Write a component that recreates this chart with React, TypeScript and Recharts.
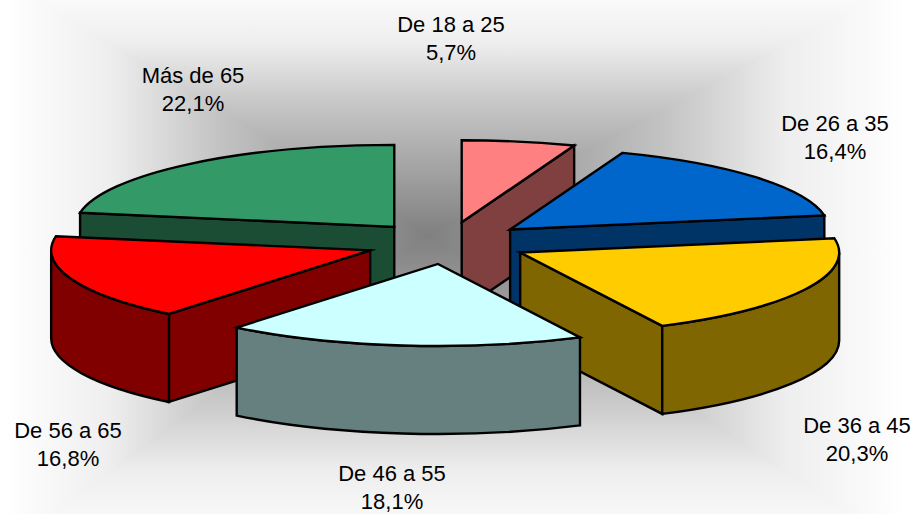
import { PieChart, Pie } from 'recharts';

const ageGroups = ['De 18 a 25', 'De 26 a 35', 'De 36 a 45', 'De 46 a 55', 'De 56 a 65', 'Más de 65'];
const shares = [5.7, 16.4, 20.3, 18.1, 16.8, 22.1];
const topColors = ['#FF8080', '#0066CC', '#FFCC00', '#CCFFFF', '#FF0000', '#339966'];
const sideColors = ['#804040', '#003366', '#806600', '#668080', '#800000', '#1A4D33'];

// draw order: back slices first, the front slice overlaps everything
const layers = [
    [5, 0, 1],
    [2, 4],
    [3],
];

const labelCenters = [
    [451, 25],
    [835, 124],
    [857, 426],
    [392, 474],
    [68, 431],
    [193, 76],
];

const pieData = ageGroups.map((name, i) => ({ name, value: shares[i], idx: i }));

const SQUASH = 0.257;
const EXPLODE = 82;
const DEPTH = 88;

const rad = (deg: number) => (deg * Math.PI) / 180;

// Tilted, exploded wedge built from the angles the Pie computed
function tiltedSlice(props: any, layer: number[]) {
    const { cx, cy, outerRadius, startAngle, endAngle, midAngle, idx } = props;
    if (!layer.includes(idx)) return <g />;

    const a = outerRadius;
    const b = outerRadius * SQUASH;
    const from = 90 - startAngle;
    const to = 90 - endAngle;
    const mid = 90 - midAngle;

    const ax = cx + EXPLODE * Math.sin(rad(mid));
    const ay = cy - EXPLODE * SQUASH * Math.cos(rad(mid));
    const pt = (t: number) => [ax + a * Math.sin(rad(t)), ay - b * Math.cos(rad(t))];

    const [sx, sy] = pt(from);
    const [ex, ey] = pt(to);
    const common = { stroke: '#000', strokeWidth: 2.4, strokeLinejoin: 'miter' as const, strokeMiterlimit: 8 };
    const side = sideColors[idx];

    const walls = [];
    if (Math.sin(rad(from)) < 0) {
        walls.push(<path key="s" {...common} fill={side} d={`M${ax},${ay}L${sx},${sy}L${sx},${sy + DEPTH}L${ax},${ay + DEPTH}Z`} />);
    }
    if (Math.sin(rad(to)) > 0) {
        walls.push(<path key="e" {...common} fill={side} d={`M${ax},${ay}L${ex},${ey}L${ex},${ey + DEPTH}L${ax},${ay + DEPTH}Z`} />);
    }
    const arcFrom = Math.max(from, 90);
    const arcTo = Math.min(to, 270);
    if (arcTo > arcFrom) {
        const [x1, y1] = pt(arcFrom);
        const [x2, y2] = pt(arcTo);
        walls.push(
            <path
                key="o"
                {...common}
                fill={side}
                d={`M${x1},${y1}A${a},${b} 0 0 1 ${x2},${y2}L${x2},${y2 + DEPTH}A${a},${b} 0 0 0 ${x1},${y1 + DEPTH}Z`}
            />
        );
    }

    return (
        <g>
            {walls}
            <path {...common} fill={topColors[idx]} d={`M${ax},${ay}L${sx},${sy}A${a},${b} 0 0 1 ${ex},${ey}Z`} />
        </g>
    );
}

function sliceLabel(props: any) {
    const i = props.index;
    const [x, y] = labelCenters[i];
    return (
        <text x={x} y={y} textAnchor="middle" fontFamily="'Liberation Sans', Arial, sans-serif" fontSize={22} fill="#000">
            <tspan x={x} dy={7}>{ageGroups[i]}</tspan>
            <tspan x={x} dy={28}>{shares[i].toFixed(1).replace('.', ',')}%</tspan>
        </text>
    );
}

// Rectangular "path" gradient behind the pie
const BG = { cx: 428, cy: 235, l: 5, r: 905, t: -20, b: 550 };

function Backdrop() {
    const { cx, cy, l, r, t, b } = BG;
    const tris = [
        { id: 'bgT', pts: `${l},${t} ${r},${t} ${cx},${cy}`, x2: cx, y2: t },
        { id: 'bgR', pts: `${r},${t} ${r},${b} ${cx},${cy}`, x2: r, y2: cy },
        { id: 'bgB', pts: `${r},${b} ${l},${b} ${cx},${cy}`, x2: cx, y2: b },
        { id: 'bgL', pts: `${l},${b} ${l},${t} ${cx},${cy}`, x2: l, y2: cy },
    ];
    return (
        <svg width={914} height={514} style={{ position: 'absolute', left: 0, top: 0 }}>
            <defs>
                {tris.map((g) => (
                    <linearGradient key={g.id} id={g.id} gradientUnits="userSpaceOnUse" x1={cx} y1={cy} x2={g.x2} y2={g.y2}>
                        <stop offset="0" stopColor="#808080" />
                        <stop offset="0.5" stopColor="#C4C4C4" />
                        <stop offset="0.75" stopColor="#EEEEEE" />
                        <stop offset="1" stopColor="#FFFFFF" />
                    </linearGradient>
                ))}
            </defs>
            <rect width={914} height={514} fill="#fff" />
            {tris.map((g) => (
                <polygon key={g.id} points={g.pts} fill={`url(#${g.id})`} shapeRendering="crispEdges" />
            ))}
        </svg>
    );
}

export default function App() {
    return (
        <div style={{ position: 'absolute', left: 0, top: 0, width: 914, height: 514, overflow: 'hidden', background: '#fff' }}>
            <Backdrop />
            <div style={{ position: 'absolute', left: 0, top: 0 }}>
                <PieChart width={914} height={514} margin={{ top: 0, right: 0, bottom: 0, left: 0 }}>
                    {layers.map((layer, li) => (
                        <Pie
                            key={li}
                            data={pieData}
                            dataKey="value"
                            nameKey="name"
                            cx={447}
                            cy={243}
                            innerRadius={0}
                            outerRadius={319}
                            startAngle={90}
                            endAngle={-270}
                            stroke="none"
                            isAnimationActive={false}
                            labelLine={false}
                            label={li === layers.length - 1 ? sliceLabel : false}
                            shape={(p: any) => tiltedSlice(p, layer)}
                        />
                    ))}
                </PieChart>
            </div>
        </div>
    );
}
